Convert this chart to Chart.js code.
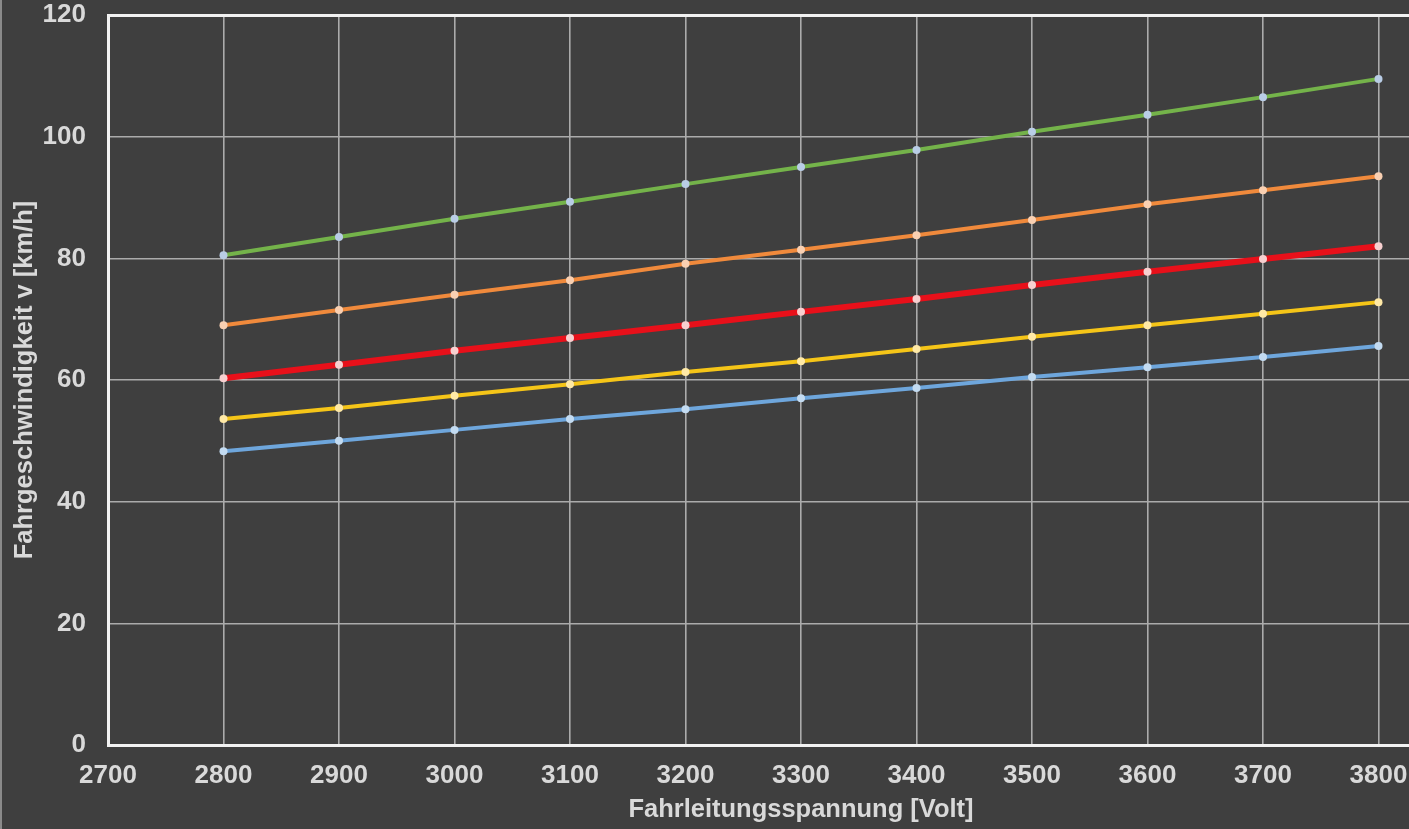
<!DOCTYPE html>
<html lang="de">
<head>
<meta charset="utf-8">
<title>Fahrgeschwindigkeit in Abhängigkeit von der Fahrleitungsspannung</title>
<script src="https://cdn.jsdelivr.net/npm/chart.js@4/dist/chart.umd.min.js"></script>
<style>
  html, body { margin: 0; padding: 0; background: #3f3f3f; overflow: hidden; }
  #wrap { width: 1496px; height: 829px; border-left: 2px solid #8a8a8a; }
  canvas { display: block; }
</style>
</head>
<body>
<div id="wrap"><canvas id="chart" width="1496" height="829"></canvas></div>
<script>
// Fahrleitungsspannung [Volt]
const voltages = [2800, 2900, 3000, 3100, 3200, 3300, 3400, 3500, 3600, 3700, 3800];

// Fahrgeschwindigkeit v [km/h] je Kurve
const speedGreen  = [80.5, 83.5, 86.5, 89.3, 92.2, 95.0, 97.8, 100.8, 103.6, 106.5, 109.5];
const speedOrange = [69.0, 71.5, 74.0, 76.4, 79.1, 81.4, 83.8, 86.3, 88.9, 91.2, 93.5];
const speedRed    = [60.3, 62.5, 64.8, 66.9, 69.0, 71.2, 73.3, 75.6, 77.8, 79.9, 82.0];
const speedYellow = [53.6, 55.4, 57.4, 59.3, 61.3, 63.1, 65.1, 67.1, 69.0, 70.9, 72.8];
const speedBlue   = [48.3, 50.0, 51.8, 53.6, 55.2, 57.0, 58.7, 60.5, 62.1, 63.8, 65.6];

const xTicks = [2700, 2800, 2900, 3000, 3100, 3200, 3300, 3400, 3500, 3600, 3700, 3800, 3900];
const yTicks = [0, 20, 40, 60, 80, 100, 120];

const textColor = '#d9d9d9';
const axisColor = '#f2f2f2';
const gridColor = '#ababab';
const family = '"Liberation Sans", Arial, sans-serif';
const tickFont = { family, size: 26, weight: 'bold' };
const titleFont = { family, size: 25.5, weight: 'bold' };

function series(values, line, point, width) {
  return {
    data: voltages.map((v, i) => ({ x: v, y: values[i] })),
    borderColor: line,
    borderWidth: width,
    pointBackgroundColor: point,
    pointBorderWidth: 0,
    pointRadius: 4,
    tension: 0,
    fill: false
  };
}

new Chart(document.getElementById('chart'), {
  type: 'line',
  data: {
    datasets: [
      series(speedBlue,   '#6ea6dc', '#c3dbf1', 4),
      series(speedYellow, '#f5c518', '#ffe9a6', 4),
      series(speedRed,    '#e8101a', '#f7d0d0', 6),
      series(speedOrange, '#f08a3c', '#f9d0b2', 4),
      series(speedGreen,  '#74b34a', '#b9cde6', 4)
    ]
  },
  options: {
    responsive: false,
    animation: false,
    layout: { padding: { top: 15, right: 0, bottom: 0, left: 0 } },
    plugins: { legend: { display: false }, tooltip: { enabled: false } },
    scales: {
      x: {
        type: 'linear',
        min: 2700,
        max: 3900,
        afterBuildTicks: (s) => { s.ticks = xTicks.map(v => ({ value: v })); },
        afterFit: (s) => { s.height = 84; s.paddingLeft = 0; s.paddingRight = 0; },
        border: { color: axisColor, width: 3 },
        grid: { color: gridColor, lineWidth: 1.6, drawTicks: false },
        ticks: {
          color: textColor, font: tickFont, padding: 15, autoSkip: false, maxRotation: 0,
          callback: (v) => (v === 3900 ? '' : String(v))
        },
        title: {
          display: true, text: 'Fahrleitungsspannung [Volt]',
          color: textColor, font: titleFont, padding: { top: 0, bottom: 4 }
        }
      },
      y: {
        min: 0,
        max: 120,
        afterBuildTicks: (s) => { s.ticks = yTicks.map(v => ({ value: v })); },
        afterFit: (s) => { s.width = 106; s.paddingTop = 0; s.paddingBottom = 0; },
        border: { color: axisColor, width: 3 },
        grid: {
          drawTicks: false,
          color: (c) => (c.tick && c.tick.value === 120 ? axisColor : gridColor),
          lineWidth: (c) => (c.tick && c.tick.value === 120 ? 3 : 1.6)
        },
        ticks: { color: textColor, font: tickFont, padding: 22 },
        title: {
          display: true, text: 'Fahrgeschwindigkeit v [km/h]',
          color: textColor, font: titleFont, padding: { top: 8, bottom: 0 }
        }
      }
    }
  }
});
</script>
</body>
</html>
